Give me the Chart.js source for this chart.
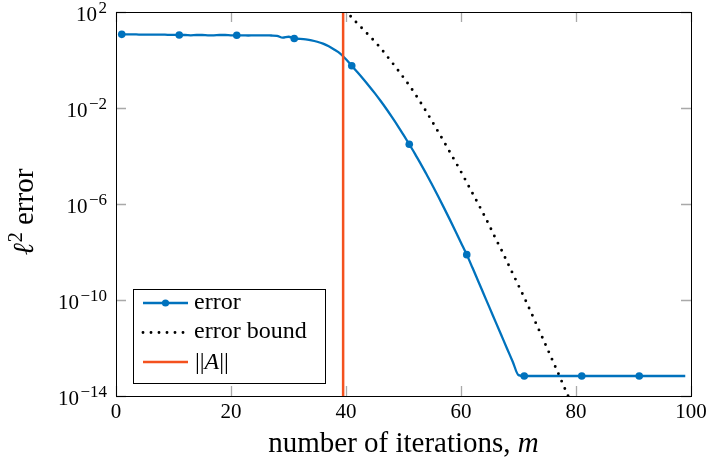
<!DOCTYPE html>
<html>
<head>
<meta charset="utf-8">
<script src="https://cdn.jsdelivr.net/npm/chart.js@4.4.1/dist/chart.umd.min.js"></script>
<style>
  html, body { margin: 0; padding: 0; background: #fff; }
  #wrap { width: 709px; height: 464px; position: relative; }
</style>
</head>
<body>
<div id="wrap"><canvas id="myChart"></canvas></div>
<script>
// iterations m for the error curve
const iterations = [
  1, 2, 3, 4, 5, 6, 7, 8, 9, 10, 11, 12, 13, 14, 15, 16, 17, 18, 19, 20,
  21, 22, 23, 24, 25, 26, 27, 28, 29, 30, 31, 32, 33, 34, 35, 36, 37, 38, 39, 40,
  41, 42, 43, 44, 45, 46, 47, 48, 49, 50, 51, 52, 53, 54, 55, 56, 57, 58, 59, 60,
  61, 62, 63, 64, 65, 66, 67, 68, 69, 70, 71, 72, 73, 74, 75, 76, 77, 78, 79, 80,
  81, 82, 83, 84, 85, 86, 87, 88, 89, 90, 91, 92, 93, 94, 95, 96, 97, 98, 99
];
const errorValues = [
  11.7, 11.7, 11.7, 11.5, 11.5, 11.5, 11.5, 11.5, 11.2, 11.2,
  11.0, 11.0, 10.7, 11.0, 11.0, 10.7, 10.7, 11.0, 11.0, 10.7,
  10.7, 10.7, 10.5, 10.7, 10.7, 10.7, 10.5, 10.2, 8.5, 9.3,
  7.9, 7.6, 7.2, 6.6, 5.75, 4.79, 3.72, 2.69, 1.86, 1.07,
  0.575, 0.309, 0.162, 0.0832, 0.0417, 0.0200, 9.33e-3, 4.17e-3, 1.82e-3, 7.59e-4,
  3.09e-4, 1.23e-4, 4.68e-5, 1.74e-5, 6.17e-6, 2.14e-6, 7.24e-7, 2.40e-7, 7.76e-8, 2.45e-8,
  7.76e-9, 2.19e-9, 6.03e-10, 1.66e-10, 4.57e-11, 1.26e-11, 3.47e-12, 9.55e-13, 2.69e-13, 7.41e-14,
  6.8e-14, 6.8e-14, 6.8e-14, 6.8e-14, 6.8e-14, 6.8e-14, 6.8e-14, 6.8e-14, 6.8e-14, 6.8e-14,
  6.8e-14, 6.8e-14, 6.8e-14, 6.8e-14, 6.8e-14, 6.8e-14, 6.8e-14, 6.8e-14, 6.8e-14, 6.8e-14,
  6.8e-14, 6.8e-14, 6.8e-14, 6.8e-14, 6.8e-14, 6.8e-14, 6.8e-14, 6.8e-14, 6.8e-14
];

// error bound
const boundIterations = [
  40, 41, 42, 43, 44, 45, 46, 47, 48, 49, 50, 51, 52, 53, 54, 55, 56, 57, 58, 59, 60,
  61, 62, 63, 64, 65, 66, 67, 68, 69, 70, 71, 72, 73, 74, 75, 76, 77, 78, 79, 80
];
const boundValues = [
  126, 57.5, 33.1, 18.6, 10.5, 5.9, 3.16, 1.58, 0.79, 0.39, 0.186,
  0.087, 0.039, 0.0166, 6.8e-3, 2.7e-3, 1.05e-3, 4.1e-4, 1.55e-4, 5.9e-5, 2.2e-5,
  7.9e-6, 2.8e-6, 1.0e-6, 3.5e-7, 1.17e-7, 3.7e-8, 1.26e-8, 4.0e-9, 1.26e-9, 4.0e-10,
  1.26e-10, 3.8e-11, 1.12e-11, 3.3e-12, 9.5e-13, 2.75e-13, 7.9e-14, 2.2e-14, 6.3e-15, 1.8e-15
];

// ||A|| marker line
const normIterations = [39.5, 39.5];
const normValues = [1e-14, 1e2];

const xTicks = [0, 20, 40, 60, 80, 100];
const yTicks = [1e2, 1e-2, 1e-6, 1e-10, 1e-14];
const yTickExponents = ['2', '\u22122', '\u22126', '\u221210', '\u221214'];
const seriesLabels = ['error', 'error bound', '\u2016A\u2016'];

const BLUE = '#0072BD';
const ORANGE = '#F4511E';
const SERIF = "'Liberation Serif', 'DejaVu Serif', serif";

function toPoints(xs, ys) {
    return xs.map((v, i) => ({ x: v, y: ys[i] }));
}

// draw a row of text pieces with different fonts / offsets
function drawRich(ctx, parts, x, y, align) {
    let total = 0;
    parts.forEach(p => { ctx.font = p.font; p.w = ctx.measureText(p.t).width + (p.gap || 0); total += p.w; });
    let cx = align === 'center' ? x - total / 2 : (align === 'right' ? x - total : x);
    ctx.textAlign = 'left';
    parts.forEach(p => {
        ctx.font = p.font;
        ctx.fillText(p.t, cx + (p.gap || 0), y + (p.dy || 0));
        cx += p.w;
    });
}

const framePlugin = {
    id: 'frame',
    afterDraw(chart) {
        const ctx = chart.ctx;
        const a = chart.chartArea;
        const xs = chart.scales.x;
        const ys = chart.scales.y;
        ctx.save();

        // inward tick marks on all four sides
        ctx.strokeStyle = '#a9a9a9';
        ctx.lineWidth = 1.3;
        ctx.beginPath();
        xTicks.forEach(v => {
            const px = Math.round(xs.getPixelForValue(v)) + 0.5;
            ctx.moveTo(px, a.bottom); ctx.lineTo(px, a.bottom - 10);
            ctx.moveTo(px, a.top); ctx.lineTo(px, a.top + 10);
        });
        yTicks.forEach(v => {
            const py = Math.round(ys.getPixelForValue(v)) + 0.5;
            ctx.moveTo(a.left, py); ctx.lineTo(a.left + 10, py);
            ctx.moveTo(a.right, py); ctx.lineTo(a.right - 10, py);
        });
        ctx.stroke();

        // axis box
        ctx.strokeStyle = '#000';
        ctx.lineWidth = 1;
        ctx.strokeRect(Math.round(a.left) + 0.5, Math.round(a.top) + 0.5,
            Math.round(a.right - a.left), Math.round(a.bottom - a.top));

        ctx.fillStyle = '#000';
        ctx.textBaseline = 'alphabetic';

        // x tick labels
        ctx.font = '21px ' + SERIF;
        ctx.textAlign = 'center';
        xTicks.forEach(v => {
            ctx.fillText(String(v), xs.getPixelForValue(v), a.bottom + 22);
        });

        // y tick labels 10^k
        yTicks.forEach((v, i) => {
            const py = ys.getPixelForValue(v);
            drawRich(ctx, [
                { t: '10', font: '21px ' + SERIF, dy: 9 },
                { t: yTickExponents[i], font: '17px ' + SERIF, dy: 1, gap: 1.5 }
            ], a.left - 9, py, 'right');
        });

        // x title
        drawRich(ctx, [
            { t: 'number of iterations, ', font: '29px ' + SERIF },
            { t: 'm', font: 'italic 29px ' + SERIF }
        ], (a.left + a.right) / 2, 452, 'center');

        // y title (rotated)
        ctx.save();
        ctx.translate(33, (a.top + a.bottom) / 2 + 8);
        ctx.rotate(-Math.PI / 2);
        drawRich(ctx, [
            { t: '\u2113', font: 'italic 29px ' + SERIF },
            { t: '2', font: '20px ' + SERIF, dy: -11, gap: 1 },
            { t: ' error', font: '29px ' + SERIF }
        ], 0, 0, 'center');
        ctx.restore();

        // legend
        const lx = 133.5, ly = 289.5, lw = 192, lh = 94;
        ctx.fillStyle = '#fff';
        ctx.fillRect(lx, ly, lw, lh);
        ctx.strokeStyle = '#000';
        ctx.lineWidth = 1;
        ctx.strokeRect(lx, ly, lw, lh);
        const rows = [303, 332.5, 362];
        const ds = chart.data.datasets;
        rows.forEach((ry, i) => {
            const d = ds[i];
            ctx.save();
            ctx.strokeStyle = d.borderColor;
            ctx.lineWidth = d.borderWidth;
            ctx.lineCap = d.borderCapStyle || 'butt';
            ctx.setLineDash(d.borderDash || []);
            ctx.beginPath();
            ctx.moveTo(143, ry); ctx.lineTo(188, ry);
            ctx.stroke();
            if (i === 0) {
                ctx.fillStyle = d.borderColor;
                ctx.beginPath();
                ctx.arc(165.5, ry, 3.6, 0, Math.PI * 2);
                ctx.fill();
            }
            ctx.restore();
            ctx.fillStyle = '#000';
            if (i === 2) {
                drawRich(ctx, [
                    { t: '||', font: '24px ' + SERIF },
                    { t: 'A', font: 'italic 24px ' + SERIF },
                    { t: '||', font: '24px ' + SERIF }
                ], 195, ry + 7, 'left');
            } else {
                ctx.font = '24px ' + SERIF;
                ctx.textAlign = 'left';
                ctx.fillText(d.label, 194, ry + 5.5);
            }
        });

        ctx.restore();
    }
};

const ctx = document.getElementById('myChart').getContext('2d');
const myChart = new Chart(ctx, {
    type: 'line',
    data: {
        datasets: [
            {
                label: seriesLabels[0],
                data: toPoints(iterations, errorValues),
                borderColor: BLUE,
                backgroundColor: BLUE,
                borderWidth: 2.3,
                cubicInterpolationMode: 'monotone',
                pointRadius: c => (c.dataIndex % 10 === 0 ? 3.8 : 0),
                pointBorderWidth: 0,
                order: 1
            },
            {
                label: seriesLabels[1],
                data: toPoints(boundIterations, boundValues),
                borderColor: '#000',
                borderWidth: 2.9,
                borderDash: [0, 8],
                borderCapStyle: 'round',
                cubicInterpolationMode: 'monotone',
                pointRadius: 0,
                order: 2
            },
            {
                label: seriesLabels[2],
                data: toPoints(normIterations, normValues),
                borderColor: ORANGE,
                borderWidth: 2.5,
                pointRadius: 0,
                order: 0
            }
        ]
    },
    options: {
        responsive: true,
        maintainAspectRatio: false,
        animation: false,
        layout: { padding: { left: 116, right: 18, top: 12, bottom: 68 } },
        plugins: {
            legend: { display: false },
            tooltip: { enabled: false }
        },
        scales: {
            x: { type: 'linear', min: 0, max: 100, display: false },
            y: { type: 'logarithmic', min: 1e-14, max: 1e2, display: false }
        }
    },
    plugins: [framePlugin]
});
</script>
</body>
</html>
